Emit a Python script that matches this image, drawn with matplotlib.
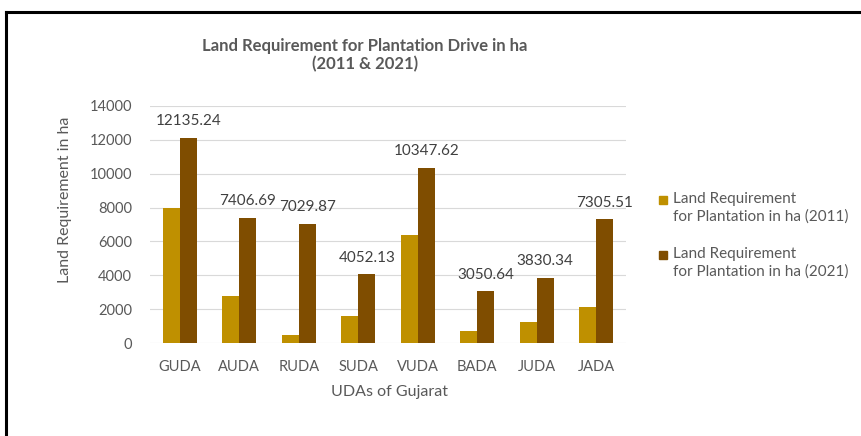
import matplotlib
matplotlib.use("Agg")
import matplotlib.pyplot as plt
import numpy as np
from matplotlib.lines import Line2D
from matplotlib.patches import Rectangle

categories = ["GUDA", "AUDA", "RUDA", "SUDA", "VUDA", "BADA", "JUDA", "JADA"]
values_2011 = [8000, 2800, 500, 1600, 6400, 720, 1220, 2100]
values_2021 = [12135.24, 7406.69, 7029.87, 4052.13, 10347.62, 3050.64, 3830.34, 7305.51]
labels_2021 = ["12135.24", "7406.69", "7029.87", "4052.13", "10347.62", "3050.64", "3830.34", "7305.51"]
series_names = ["Land Requirement\nfor Plantation in ha (2011)",
                "Land Requirement\nfor Plantation in ha (2021)"]
yticks = [0, 2000, 4000, 6000, 8000, 10000, 12000, 14000]

plt.rcParams['font.family'] = ['Lato', 'DejaVu Sans']

W, H = 862, 436
fig = plt.figure(figsize=(W/100, H/100), dpi=100)
ax = fig.add_axes([150/W, 1-343/H, 476/W, (343-106)/H])

x = np.arange(len(categories))
bw = 0.285
gold = "#BF9000"
brown = "#7F4D00"
colors = [gold, brown]
b1 = ax.bar(x - bw/2, values_2011, bw, color=gold, label=series_names[0], zorder=3)
b2 = ax.bar(x + bw/2, values_2021, bw, color=brown, label=series_names[1], zorder=3)

for xi, v, lab in zip(x, values_2021, labels_2021):
    ax.annotate(lab, (xi + bw/2, v), xytext=(0, 7), textcoords="offset points",
                ha="center", va="bottom", fontsize=11, color="#404040")

ax.set_xlim(-0.5, len(categories) - 0.5)
ax.set_ylim(0, 14000)
ax.set_yticks(yticks)
ax.set_yticklabels([str(t) for t in yticks])
ax.set_xticks(x)
ax.set_xticklabels(categories)
ax.tick_params(axis="both", length=0, labelsize=10.5, colors="#595959")
ax.tick_params(axis="y", pad=13)
ax.tick_params(axis="x", pad=12)
ax.grid(axis="y", color="#D9D9D9", linewidth=0.8, zorder=0)
for s in ax.spines.values():
    s.set_visible(False)

fig.text(390/W, 1-392/H, "UDAs of Gujarat", ha="center", va="center",
         fontsize=11.5, color="#595959")
fig.text(65/W, 1-200/H, "Land Requirement in ha", ha="center", va="center",
         rotation=90, fontsize=11.5, color="#595959")

fig.text(365/W, 1-46/H, "Land Requirement for Plantation Drive in ha", ha="center",
         va="center", fontsize=12, fontweight="bold", color="#595959")
fig.text(365/W, 1-64/H, "(2011 & 2021)", ha="center", va="center",
         fontsize=12, fontweight="bold", color="#595959")

# legend (drawn manually so the swatch sits beside the first line)
leg_tops = [192, 247]
for name, col, top in zip(series_names, colors, leg_tops):
    fig.add_artist(Rectangle((659/W, 1-(top+12)/H), 8/W, 8/H, color=col,
                             transform=fig.transFigure))
    fig.text(673/W, 1-top/H, name, ha="left", va="top", fontsize=11,
             color="#595959", linespacing=1.3)

# frame
fig.add_artist(Line2D([6/W, 6/W], [0, 1-12/H], color="black", linewidth=2.2,
                      transform=fig.transFigure))
fig.add_artist(Line2D([6/W, 1], [1-12/H, 1-12/H], color="black", linewidth=2.2,
                      transform=fig.transFigure))

fig.savefig("out.png", dpi=100)
